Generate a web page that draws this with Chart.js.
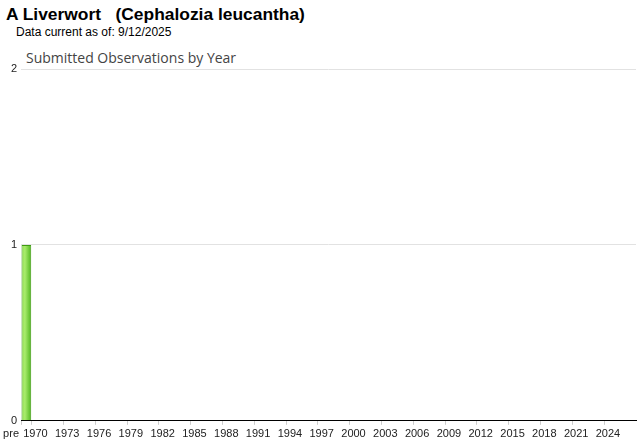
<!DOCTYPE html>
<html>
<head>
<meta charset="utf-8">
<script src="https://cdn.jsdelivr.net/npm/chart.js@4"></script>
<style>
  body { margin: 0; background: #fff; }
  #wrap { position: relative; width: 640px; height: 442px; overflow: hidden; }
  #title { position: absolute; left: 6px; top: 4px; font: bold 17.4px "Liberation Sans", Arial, sans-serif; color: #000; white-space: pre; }
  #sub { position: absolute; left: 16px; top: 25px; font: 12px "Liberation Sans", Arial, sans-serif; color: #000; }
  #ctitle { position: absolute; left: 26px; top: 48px; font: 14px "Open Sans", sans-serif; color: #444; }
  canvas { position: absolute; left: 0; top: 0; }
</style>
</head>
<body>
<div id="wrap">
  <div id="title">A Liverwort   (Cephalozia leucantha)</div>
  <div id="sub">Data current as of: 9/12/2025</div>
  <div id="ctitle">Submitted Observations by Year</div>
  <canvas id="obsChart" width="640" height="442"></canvas>
</div>
<script>
// categories: "pre" then one per year
const years = ["pre"];
for (let y = 1970; y <= 2026; y++) years.push(String(y));

// observations per category (only the "pre" bar has a record)
const counts = [1, 0, 0, 0, 0, 0, 0, 0, 0, 0, 0, 0, 0, 0, 0, 0, 0, 0, 0, 0,
  0, 0, 0, 0, 0, 0, 0, 0, 0, 0, 0, 0, 0, 0, 0, 0, 0, 0, 0, 0,
  0, 0, 0, 0, 0, 0, 0, 0, 0, 0, 0, 0, 0, 0, 0, 0, 0, 0];

const yTicks = [0, 1, 2];

function showLabel(i) {
  return i === 0 || (i - 1) % 3 === 0;
}

const ctx = document.getElementById("obsChart");
new Chart(ctx, {
  type: "bar",
  data: {
    labels: years,
    datasets: [{
      data: counts,
      backgroundColor: (c) => {
        const chart = c.chart;
        const xs = chart.scales.x;
        const x = xs ? xs.getPixelForValue(c.dataIndex) : NaN;
        if (!isFinite(x)) return "#7cd63a";
        const g = chart.ctx.createLinearGradient(x - 5, 0, x + 5, 0);
        g.addColorStop(0, "#8fdc4c");
        g.addColorStop(0.35, "#a8ec6c");
        g.addColorStop(1, "#4fb51c");
        return g;
      },
      borderColor: "#3f9a14",
      borderWidth: 1,
      borderSkipped: "bottom",
      barPercentage: 0.92,
      categoryPercentage: 1
    }]
  },
  options: {
    responsive: false,
    animation: false,
    layout: { padding: { top: 69, right: 4, left: 0, bottom: -2 } },
    plugins: { legend: { display: false }, tooltip: { enabled: false } },
    scales: {
      x: {
        border: { color: "#000", width: 1 },
        grid: {
          drawOnChartArea: false,
          tickLength: 4,
          color: (c) => showLabel(c.index) ? "#cccccc" : "rgba(0,0,0,0)"
        },
        ticks: {
          autoSkip: false,
          maxRotation: 0,
          padding: 3,
          color: "#222",
          font: { family: "Liberation Sans", size: 11 },
          callback: (v, i) => {
            if (i === 0) return "pre          ";
            return showLabel(i) ? years[i] + " " : "";
          }
        }
      },
      y: {
        min: 0,
        max: 2,
        afterBuildTicks: (s) => { s.ticks = yTicks.map(v => ({ value: v })); },
        border: { display: false },
        grid: { color: "#e2e2e2", drawTicks: false },
        ticks: {
          padding: 4,
          color: "#222",
          font: { family: "Liberation Sans", size: 11 }
        }
      }
    }
  }
});
</script>
</body>
</html>
